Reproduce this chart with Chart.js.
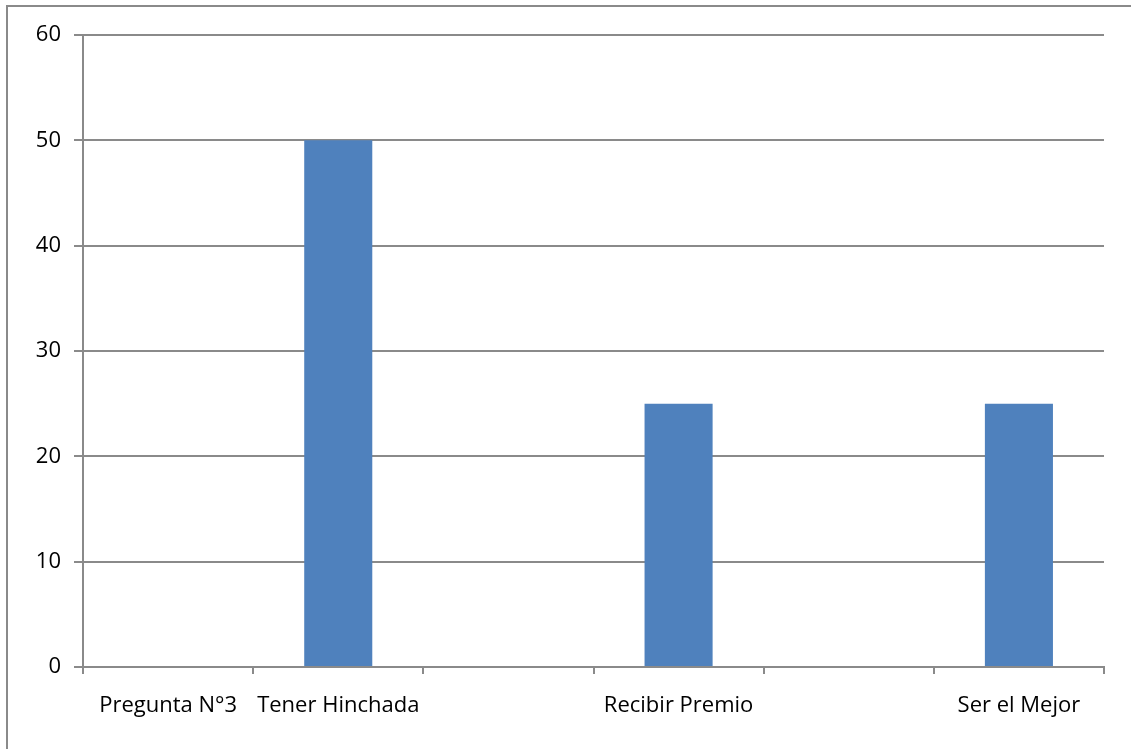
<!DOCTYPE html>
<html>
<head>
<meta charset="utf-8">
<script src="https://cdn.jsdelivr.net/npm/chart.js@4.4.1/dist/chart.umd.min.js"></script>
<style>
  html, body { margin: 0; padding: 0; background: #ffffff; }
  #wrap { position: relative; width: 1131px; height: 749px; }
</style>
</head>
<body>
<div id="wrap"><canvas id="chart" width="1131" height="749"></canvas></div>
<script>
// Survey answers: category labels and percentages
const categories = ["Pregunta N°3", "Tener Hinchada", "", "Recibir Premio", "", "Ser el Mejor"];
const values = [null, 50, 0, 25, 0, 25];
const yTicks = [0, 10, 20, 30, 40, 50, 60];

const axisGray = '#8a8a8a';
const barBlue = '#4f81bd';
const fontFamily = '"Open Sans", Lato, "Liberation Sans", sans-serif';

// Frame line along the top and left edges of the canvas
const framePlugin = {
  id: 'frame',
  afterDraw(chart) {
    const ctx = chart.ctx;
    ctx.save();
    ctx.strokeStyle = axisGray;
    ctx.lineWidth = 2;
    ctx.beginPath();
    ctx.moveTo(7, chart.height);
    ctx.lineTo(7, 6);
    ctx.lineTo(chart.width, 6);
    ctx.stroke();
    ctx.restore();
  }
};

new Chart(document.getElementById('chart'), {
  type: 'bar',
  data: {
    labels: categories,
    datasets: [{
      data: values,
      backgroundColor: barBlue,
      borderWidth: 0,
      barPercentage: 0.4,
      categoryPercentage: 1.0
    }]
  },
  options: {
    responsive: false,
    animation: false,
    layout: { padding: { top: 35, right: 27, left: 0, bottom: 0 } },
    plugins: {
      legend: { display: false },
      tooltip: { enabled: false }
    },
    scales: {
      x: {
        grid: {
          offset: true,
          drawOnChartArea: false,
          drawTicks: true,
          tickLength: 7,
          color: axisGray,
          lineWidth: 2
        },
        border: { display: true, color: axisGray, width: 2 },
        ticks: {
          color: '#000000',
          font: { family: fontFamily, size: 22 },
          padding: 19,
          maxRotation: 0,
          autoSkip: false
        },
        afterFit(scale) { scale.height = 82; }
      },
      y: {
        min: 0,
        max: 60,
        afterBuildTicks(scale) { scale.ticks = yTicks.map(v => ({ value: v })); },
        grid: {
          color: axisGray,
          lineWidth: 2,
          drawTicks: true,
          tickLength: 9
        },
        border: { display: true, color: axisGray, width: 2 },
        ticks: {
          color: '#000000',
          font: { family: fontFamily, size: 22 },
          padding: 13
        },
        afterFit(scale) { scale.width = 83; }
      }
    }
  },
  plugins: [framePlugin]
});
</script>
</body>
</html>
